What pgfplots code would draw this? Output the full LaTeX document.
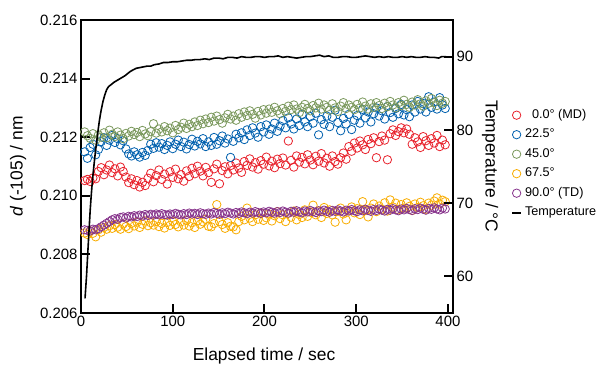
\documentclass[border=0pt]{standalone}
\usepackage{pgfplots}
\usepackage{pgfplotstable}
\pgfplotsset{compat=1.18}
\usepackage{fontspec}
\setmainfont{Liberation Sans}
\definecolor{cr}{RGB}{232,34,44}
\definecolor{cb}{RGB}{0,96,174}
\definecolor{cg}{RGB}{122,152,92}
\definecolor{co}{RGB}{248,172,0}
\definecolor{cp}{RGB}{135,52,140}
\pgfplotstableread{
t r b g o p
4 0.21052 0.21150 0.21218 0.20873 0.20884
7 0.21056 0.21128 0.21205 0.20868 0.20882
10 0.21049 0.21165 0.21196 0.20880 0.20880
13 0.21061 0.21176 0.21212 0.20872 0.20886
16 0.21058 0.21140 0.21190 0.20860 0.20884
19 0.21083 0.21158 0.21208 0.20884 0.20888
22 0.21096 0.21185 0.21200 0.20876 0.20894
25 0.21072 0.21198 0.21215 0.20892 0.20900
28 0.21088 0.21172 0.21198 0.20886 0.20906
31 0.21105 0.21190 0.21224 0.20898 0.20912
34 0.21079 0.21206 0.21210 0.20889 0.20918
37 0.21092 0.21182 0.21202 0.20902 0.20922
40 0.21068 0.21195 0.21218 0.20893 0.20920
43 0.21098 0.21174 0.21207 0.20886 0.20926
46 0.21083 0.21188 0.21195 0.20904 0.20928
49 0.21064 0.21160 0.21213 0.20895 0.20924
52 0.21045 0.21143 0.21204 0.20888 0.20930
55 0.21058 0.21136 0.21220 0.20906 0.20928
58 0.21038 0.21150 0.21209 0.20897 0.20932
61 0.21052 0.21140 0.21216 0.20910 0.20929
64 0.21030 0.21132 0.21202 0.20892 0.20934
67 0.21046 0.21148 0.21223 0.20903 0.20931
70 0.21035 0.21138 0.21211 0.20914 0.20936
73 0.21060 0.21155 0.21205 0.20898 0.20933
76 0.21077 0.21176 0.21219 0.20908 0.20937
79 0.21048 0.21162 0.21246 0.20900 0.20934
82 0.21069 0.21181 0.21214 0.20912 0.20938
85 0.21088 0.21166 0.21228 0.20895 0.20935
88 0.21056 0.21178 0.21218 0.20906 0.20939
91 0.21074 0.21158 0.21236 0.20890 0.20936
94 0.21040 0.21172 0.21222 0.20909 0.20934
97 0.21082 0.21184 0.21231 0.20899 0.20938
100 0.21063 0.21161 0.21215 0.20913 0.20936
103 0.21091 0.21176 0.21240 0.20902 0.20940
106 0.21058 0.21190 0.21226 0.20894 0.20937
109 0.21072 0.21168 0.21234 0.20911 0.20935
112 0.21050 0.21183 0.21248 0.20900 0.20939
115 0.21085 0.21160 0.21230 0.20916 0.20936
118 0.21066 0.21175 0.21244 0.20897 0.20941
121 0.21094 0.21193 0.21236 0.20908 0.20938
124 0.21075 0.21170 0.21252 0.20892 0.20940
127 0.21101 0.21186 0.21240 0.20914 0.20936
130 0.21084 0.21177 0.21258 0.20903 0.20942
133 0.21068 0.21195 0.21246 0.20911 0.20939
136 0.21097 0.21168 0.21262 0.20920 0.20937
139 0.21079 0.21184 0.21250 0.20896 0.20941
142 0.21046 0.21172 0.21268 0.20894 0.20938
145 0.21092 0.21199 0.21255 0.20905 0.20943
148 0.21108 0.21176 0.21272 0.20970 0.20940
151 0.21041 0.21188 0.21260 0.20912 0.20937
154 0.21086 0.21204 0.21248 0.20902 0.20942
157 0.21099 0.21180 0.21266 0.20889 0.20939
160 0.21075 0.21194 0.21278 0.20908 0.20944
163 0.21103 0.21131 0.21262 0.20896 0.20941
166 0.21088 0.21186 0.21272 0.20894 0.20938
169 0.21112 0.21210 0.21258 0.20884 0.20943
172 0.21095 0.21198 0.21280 0.20912 0.20940
175 0.21080 0.21215 0.21268 0.20930 0.20945
178 0.21117 0.21192 0.21286 0.20918 0.20942
181 0.21104 0.21225 0.21274 0.20958 0.20939
184 0.21126 0.21206 0.21290 0.20924 0.20944
187 0.21098 0.21232 0.21278 0.20912 0.20941
190 0.21113 0.21214 0.21265 0.20935 0.20946
193 0.21091 0.21200 0.21288 0.20920 0.20943
196 0.21120 0.21236 0.21276 0.20941 0.20940
199 0.21108 0.21218 0.21294 0.20916 0.20945
202 0.21132 0.21242 0.21282 0.20925 0.20942
205 0.21102 0.21210 0.21296 0.20938 0.20947
208 0.21118 0.21228 0.21285 0.20914 0.20944
211 0.21096 0.21248 0.21302 0.20932 0.20941
214 0.21125 0.21220 0.21290 0.20946 0.20946
217 0.21110 0.21238 0.21280 0.20922 0.20943
220 0.21129 0.21257 0.21298 0.20935 0.20948
223 0.21105 0.21232 0.21288 0.20912 0.20944
226 0.21187 0.21266 0.21306 0.20940 0.20941
229 0.21121 0.21245 0.21294 0.20927 0.20947
232 0.21098 0.21228 0.21310 0.20948 0.20944
235 0.21136 0.21262 0.21296 0.20918 0.20949
238 0.21115 0.21240 0.21284 0.20936 0.20945
241 0.21131 0.21278 0.21302 0.20926 0.20942
244 0.21109 0.21252 0.21312 0.20952 0.20948
247 0.21140 0.21236 0.21298 0.20930 0.20945
250 0.21122 0.21270 0.21290 0.20944 0.20950
253 0.21106 0.21248 0.21308 0.20968 0.20946
256 0.21135 0.21282 0.21300 0.20935 0.20943
259 0.21118 0.21208 0.21316 0.20948 0.20949
262 0.21144 0.21260 0.21296 0.20926 0.20946
265 0.21112 0.21244 0.21310 0.20960 0.20951
268 0.21128 0.21272 0.21302 0.20940 0.20947
271 0.21101 0.21236 0.21292 0.20952 0.20944
274 0.21136 0.21268 0.21314 0.20935 0.20950
277 0.21117 0.21292 0.21300 0.20910 0.20947
280 0.21108 0.21250 0.21288 0.20947 0.20952
283 0.21130 0.21222 0.21306 0.20958 0.20948
286 0.21146 0.21264 0.21318 0.20938 0.20945
289 0.21125 0.21245 0.21298 0.20918 0.20951
292 0.21168 0.21278 0.21310 0.20950 0.20948
295 0.21152 0.21226 0.21302 0.20962 0.20953
298 0.21180 0.21258 0.21294 0.20942 0.20949
301 0.21163 0.21274 0.21312 0.20956 0.20946
304 0.21187 0.21248 0.21300 0.20936 0.20952
307 0.21174 0.21295 0.21320 0.20980 0.20949
310 0.21158 0.21266 0.21306 0.20950 0.20954
313 0.21192 0.21286 0.21296 0.20928 0.20950
316 0.21178 0.21252 0.21314 0.20958 0.20947
319 0.21198 0.21280 0.21302 0.20972 0.20953
322 0.21130 0.21300 0.21318 0.20946 0.20950
325 0.21185 0.21272 0.21308 0.20965 0.20955
328 0.21204 0.21290 0.21298 0.20954 0.20951
331 0.21190 0.21262 0.21316 0.20976 0.20948
334 0.21123 0.21305 0.21304 0.20948 0.20954
337 0.21212 0.21284 0.21322 0.20986 0.20951
340 0.21225 0.21268 0.21310 0.20962 0.20956
343 0.21206 0.21298 0.21300 0.20975 0.20952
346 0.21219 0.21280 0.21318 0.20952 0.20949
349 0.21232 0.21312 0.21308 0.20970 0.20955
352 0.21215 0.21276 0.21326 0.20958 0.20952
355 0.21228 0.21294 0.21312 0.20976 0.20957
358 0.21210 0.21270 0.21302 0.20964 0.20953
361 0.21176 0.21310 0.21320 0.20950 0.20950
364 0.21198 0.21286 0.21310 0.20972 0.20956
367 0.21184 0.21322 0.21328 0.20960 0.20953
370 0.21165 0.21296 0.21314 0.20978 0.20958
373 0.21202 0.21315 0.21306 0.20966 0.20954
376 0.21188 0.21286 0.21324 0.20954 0.20951
379 0.21172 0.21338 0.21316 0.20975 0.20957
382 0.21195 0.21302 0.21332 0.20968 0.20954
385 0.21180 0.21320 0.21318 0.20982 0.20959
388 0.21206 0.21296 0.21308 0.20993 0.20955
391 0.21168 0.21335 0.21326 0.20972 0.20952
394 0.21190 0.21310 0.21316 0.20985 0.20958
397 0.21174 0.21298 0.21322 0.20980 0.20955
}\data
\pgfplotstableread{
t T
4.4 57.0
6 60.0
8 64.6
10 69.0
11 70.8
12 72.4
13 73.8
14 75.0
15 76.2
16 77.3
17 78.3
18 79.3
19 80.3
20 81.2
21 82.0
22 82.7
24 83.9
26 84.8
28 85.5
30 85.9
33 86.2
36 86.5
40 86.8
44 87.1
48 87.4
51 87.7
54 88.0
57 88.2
60 88.4
64 88.5
68 88.6
72 88.7
76 88.7
80 88.9
85 89.0
90 89.2
95 89.2
100 89.3
105 89.3
110 89.4
115 89.5
120 89.5
125 89.6
130 89.6
135 89.7
140 89.6
145 89.8
150 89.8
155 89.7
160 89.9
165 89.9
170 89.8
175 90.0
180 89.9
185 89.9
190 90.0
195 90.0
200 89.9
205 90.0
210 90.0
215 90.1
220 89.9
225 90.0
230 89.9
235 89.8
240 89.9
245 90.0
250 90.0
255 90.1
260 90.2
265 90.0
270 90.1
275 89.9
280 89.9
285 90.0
290 90.0
295 89.9
300 89.9
305 90.0
310 90.1
315 90.0
320 89.9
325 90.0
330 89.9
335 90.0
340 89.9
345 89.9
350 90.0
355 89.9
360 90.0
365 89.9
370 89.9
375 90.0
380 89.9
385 89.9
390 89.8
393 90.0
396 90.0
398 90.0
}\temp
\begin{document}
\begin{tikzpicture}
\begin{axis}[
  name=ax,
  scale only axis, width=372bp, height=293bp,
  xmin=0, xmax=405.5, ymin=0.206, ymax=0.216,
  xtick={0,100,200,300,400},
  ytick={0.206,0.208,0.210,0.212,0.214,0.216},
  yticklabels={0.206,0.208,0.210,0.212,0.214,0.216},
  scaled y ticks=false,
  tick pos=left, tick align=inside,
  axis line style={line width=2bp},
  every tick/.style={black, line width=2bp},
  major tick length=9bp,
  tick label style={font=\fontsize{15}{15}\selectfont},
  /pgf/number format/assume math mode=true,
  xlabel={Elapsed time / sec},
  ylabel={\textit{d} (-105) / nm},
  label style={font=\fontsize{17.5}{18}\selectfont},
  xlabel style={at={(axis description cs:0.492,-0.162)}, anchor=base},
  ylabel style={at={(axis description cs:-0.169,0.5)}, anchor=center},
  legend image code/.code={\draw[mark repeat=2,mark phase=2,#1] plot coordinates {(0bp,0bp)(5bp,0bp)(10bp,0bp)};},
  legend style={draw=none, fill=none, at={(axis description cs:1.156,0.704)}, anchor=north west,
    inner xsep=0pt, inner ysep=0pt, font=\fontsize{12.7}{13}\selectfont,
    nodes={inner sep=2bp, text height=9.5bp, text depth=3bp}, row sep=3bp, column sep=1bp},
  legend cell align=left,
]
\addplot[only marks, mark=o, mark size=4.2bp, color=cr, line width=0.8bp] table[x=t,y=r] {\data};
\addlegendentry{\phantom{2}0.0° (MD)}
\addplot[only marks, mark=o, mark size=4.2bp, color=cb, line width=0.8bp] table[x=t,y=b] {\data};
\addlegendentry{22.5°}
\addplot[only marks, mark=o, mark size=4.2bp, color=cg, line width=0.8bp] table[x=t,y=g] {\data};
\addlegendentry{45.0°}
\addplot[only marks, mark=o, mark size=4.2bp, color=co, line width=0.8bp] table[x=t,y=o] {\data};
\addlegendentry{67.5°}
\addplot[only marks, mark=o, mark size=4.2bp, color=cp, line width=0.8bp] table[x=t,y=p] {\data};
\addlegendentry{90.0° (TD)}
\addlegendimage{legend image code/.code={\draw[black, line width=1.8bp] (0.5bp,0bp) -- (9.5bp,0bp);}}
\addlegendentry{Temperature}
\end{axis}
\begin{axis}[
  scale only axis, width=372bp, height=293bp,
  xmin=0, xmax=405.5, ymin=55, ymax=95,
  axis x line=none, axis y line*=right,
  ytick={60,70,80,90}, tick align=inside,
  axis line style={line width=2bp},
  every tick/.style={black, line width=2bp},
  major tick length=9bp,
  tick label style={font=\fontsize{15}{15}\selectfont},
  /pgf/number format/assume math mode=true,
  ylabel={Temperature / °C},
  label style={font=\fontsize{17.5}{18}\selectfont},
  ylabel style={rotate=180, at={(axis description cs:1.0995,0.5)}, anchor=center},
]
\addplot[black, line width=1.6bp] table[x=t,y=T] {\temp};
\end{axis}
\pgfresetboundingbox
\path[use as bounding box] ([shift={(-81bp,-54bp)}]ax.south west) rectangle ([shift={(150bp,20bp)}]ax.north east);
\end{tikzpicture}
\end{document}
